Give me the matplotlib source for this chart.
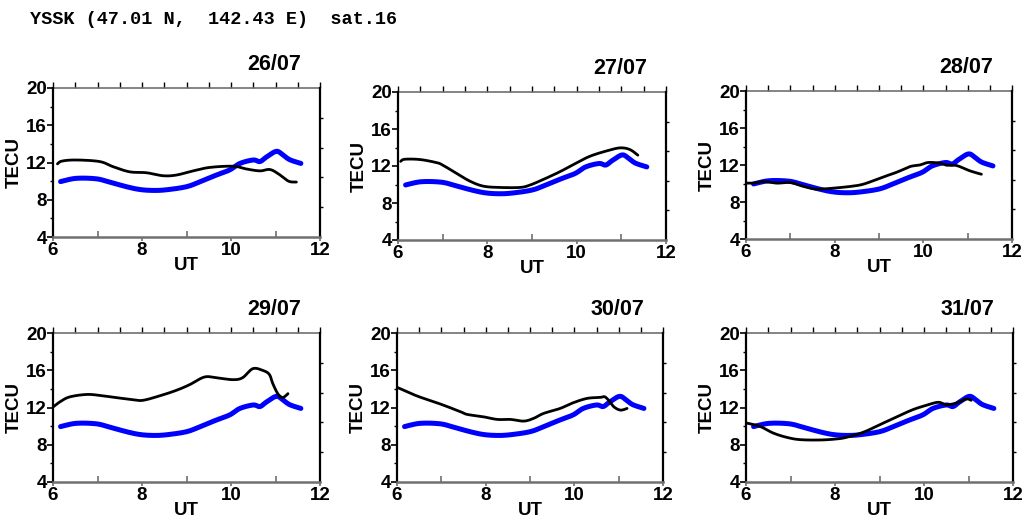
import matplotlib
matplotlib.use("Agg")
import matplotlib.pyplot as plt
from matplotlib import font_manager
import numpy as np

title_text = "YSSK (47.01 N,  142.43 E)  sat.16"
dates = ["26/07", "27/07", "28/07", "29/07", "30/07", "31/07"]

# Reference (blue) curve, same on every panel
ref_ut = [6.17, 6.52, 6.97, 7.27, 7.65, 7.95, 8.25, 8.55, 9.0, 9.3, 9.67, 9.97,
          10.2, 10.5, 10.65, 10.8, 11.02, 11.17, 11.32, 11.57]
ref_tec = [9.95, 10.3, 10.25, 9.9, 9.4, 9.1, 9.0, 9.07, 9.4, 9.93, 10.65, 11.2,
           11.9, 12.27, 12.1, 12.6, 13.2, 12.8, 12.3, 11.9]

# Daily (black) curves
ut_26 = [6.1, 6.2, 6.52, 7.05, 7.35, 7.72, 8.1, 8.47, 8.77, 9.15, 9.52, 10.05,
         10.35, 10.65, 10.87, 11.06, 11.29, 11.47]
tec_26 = [11.85, 12.15, 12.27, 12.1, 11.55, 11.0, 10.9, 10.58, 10.65, 11.1, 11.47, 11.6,
          11.3, 11.1, 11.25, 10.8, 10.0, 9.9]

ut_27 = [6.06, 6.15, 6.49, 6.86, 7.0, 7.31, 7.61, 7.91, 8.28, 8.73, 8.95, 9.25,
         9.62, 10.0, 10.3, 10.67, 10.97, 11.19, 11.37]
tec_27 = [12.5, 12.73, 12.7, 12.37, 12.1, 11.2, 10.36, 9.82, 9.68, 9.68, 9.93, 10.54,
          11.37, 12.34, 13.06, 13.63, 13.96, 13.78, 13.17]

ut_28 = [6.0, 6.17, 6.4, 6.7, 7.0, 7.3, 7.6, 7.97, 8.35, 8.65, 9.02, 9.4,
         9.7, 9.92, 10.11, 10.37, 10.52, 10.75, 11.05, 11.31]
tec_28 = [10.04, 10.04, 10.2, 10.04, 10.1, 9.68, 9.39, 9.5, 9.68, 9.93, 10.58, 11.22,
          11.83, 12.0, 12.27, 12.2, 11.98, 11.94, 11.37, 11.0]

ut_29 = [6.0, 6.15, 6.37, 6.75, 7.05, 7.42, 7.8, 8.02, 8.39, 8.77, 9.07, 9.4,
         9.66, 10.04, 10.26, 10.49, 10.71, 10.86, 10.94, 11.05, 11.15, 11.24, 11.28]
tec_29 = [12.05, 12.59, 13.13, 13.4, 13.3, 13.06, 12.84, 12.77, 13.24, 13.84, 14.45, 15.27,
          15.2, 14.99, 15.2, 16.17, 15.99, 15.56, 14.56, 13.49, 13.06, 13.3, 13.49]

ut_30 = [6.0, 6.45, 6.98, 7.43, 7.58, 7.95, 8.26, 8.56, 8.86, 9.08, 9.31, 9.68,
         9.98, 10.29, 10.59, 10.68, 10.77, 10.89, 11.04, 11.19]
tec_30 = [14.17, 13.24, 12.37, 11.55, 11.26, 11.0, 10.72, 10.72, 10.54, 10.83, 11.37, 11.9,
          12.52, 12.98, 13.09, 13.16, 12.8, 12.08, 11.72, 11.9]

ut_31 = [6.0, 6.31, 6.61, 6.91, 7.21, 7.66, 8.03, 8.26, 8.63, 9.01, 9.38, 9.75,
         10.05, 10.32, 10.5, 10.73, 10.95, 11.06]
tec_31 = [10.34, 9.98, 9.26, 8.8, 8.55, 8.51, 8.62, 8.8, 9.33, 10.16, 10.98, 11.77,
          12.23, 12.56, 12.3, 12.48, 12.91, 12.77]

day_ut = [ut_26, ut_27, ut_28, ut_29, ut_30, ut_31]
day_tec = [tec_26, tec_27, tec_28, tec_29, tec_30, tec_31]

W, H = 1022, 518
fig = plt.figure(figsize=(W / 100, H / 100), dpi=100)

# axes boxes in pixels: left, right, top, bottom
boxes = [(53, 320, 88, 237), (398, 666, 92, 240), (746, 1012, 91, 239),
         (53, 320, 333, 482), (397, 663, 333, 482), (746, 1013, 333, 482)]

fig.text(30 / W, 1 - 20 / H, title_text, family="Liberation Mono", weight="bold",
         fontsize=13.3, ha="left", va="center")

def smooth(x, y):
    x = np.asarray(x, float)
    y = np.asarray(y, float)
    xs, ys = [], []
    n = len(x)
    for i in range(n - 1):
        p0 = i - 1 if i > 0 else i
        p3 = i + 2 if i + 2 < n else i + 1
        for t in np.linspace(0, 1, 12, endpoint=False):
            t2, t3 = t * t, t * t * t
            for arr, out in ((x, xs), (y, ys)):
                a0, a1, a2, a3 = arr[p0], arr[i], arr[i + 1], arr[p3]
                out.append(0.5 * (2 * a1 + (-a0 + a2) * t + (2 * a0 - 5 * a1 + 4 * a2 - a3) * t2
                                  + (-a0 + 3 * a1 - 3 * a2 + a3) * t3))
    xs.append(x[-1]); ys.append(y[-1])
    return xs, ys

tick_size = 13.5

for k, (l, r, t, b) in enumerate(boxes):
    ax = fig.add_axes([l / W, 1 - b / H, (r - l) / W, (b - t) / H])
    bx, by = smooth(ref_ut, ref_tec)
    ax.plot(bx, by, color="#0000ff", lw=3.6, solid_capstyle="round", zorder=2)
    dx, dy = smooth(day_ut[k], day_tec[k])
    ax.plot(dx, dy, color="black", lw=2.0, solid_capstyle="round", zorder=3)
    ax.set_xlim(6, 12)
    ax.set_ylim(4, 20)
    ax.set_xticks([6, 8, 10, 12])
    ax.set_xticks([7, 9, 11], minor=True)
    ax.set_yticks([4, 8, 12, 16, 20])
    ax.set_yticks([6, 10, 14, 18], minor=True)
    ax.tick_params(axis="x", which="major", direction="out", length=3, width=1.2,
                   color="#707070", labelsize=tick_size, pad=0.5)
    ax.tick_params(axis="x", which="minor", direction="in", length=4, width=1.2, color="#707070")
    ax.tick_params(axis="y", which="major", direction="out", length=4, width=1.2,
                   labelsize=tick_size, pad=0.5)
    ax.tick_params(axis="y", which="minor", direction="out", length=2.5, width=1.0)
    for lab in ax.get_xticklabels() + ax.get_yticklabels():
        lab.set_fontweight("bold")
        lab.set_family("Liberation Sans")
    ax.spines["left"].set_color("black")
    ax.spines["left"].set_linewidth(1.6)
    ax.spines["bottom"].set_color("#707070")
    ax.spines["bottom"].set_linewidth(1.8)
    ax.spines["top"].set_visible(False)
    ax.spines["right"].set_visible(False)

    top = ax.secondary_xaxis("top")
    top.set_xticks(np.arange(6, 12.01, 0.5))
    top.tick_params(direction="out", length=4, width=1.0, labeltop=False, color="black")
    top.spines["top"].set_color("#707070")
    top.spines["top"].set_linewidth(1.2)

    right = ax.secondary_yaxis("right")
    right.set_yticks([7.2, 10.4, 13.6, 16.8])
    right.tick_params(direction="out", length=2.5, width=1.0, labelright=False)
    right.spines["right"].set_color("black")
    right.spines["right"].set_linewidth(1.6)

    ax.set_xlabel("UT", fontsize=13.5, fontweight="bold", family="Liberation Sans", labelpad=-1)
    ax.set_ylabel("TECU", fontsize=13.5, fontweight="bold", family="Liberation Sans", labelpad=2)
    ax.text(0.93, 1.09, dates[k], transform=ax.transAxes, ha="right", va="bottom",
            fontsize=15.5, fontweight="bold", family="Liberation Sans")

fig.savefig("out.png", dpi=100)
